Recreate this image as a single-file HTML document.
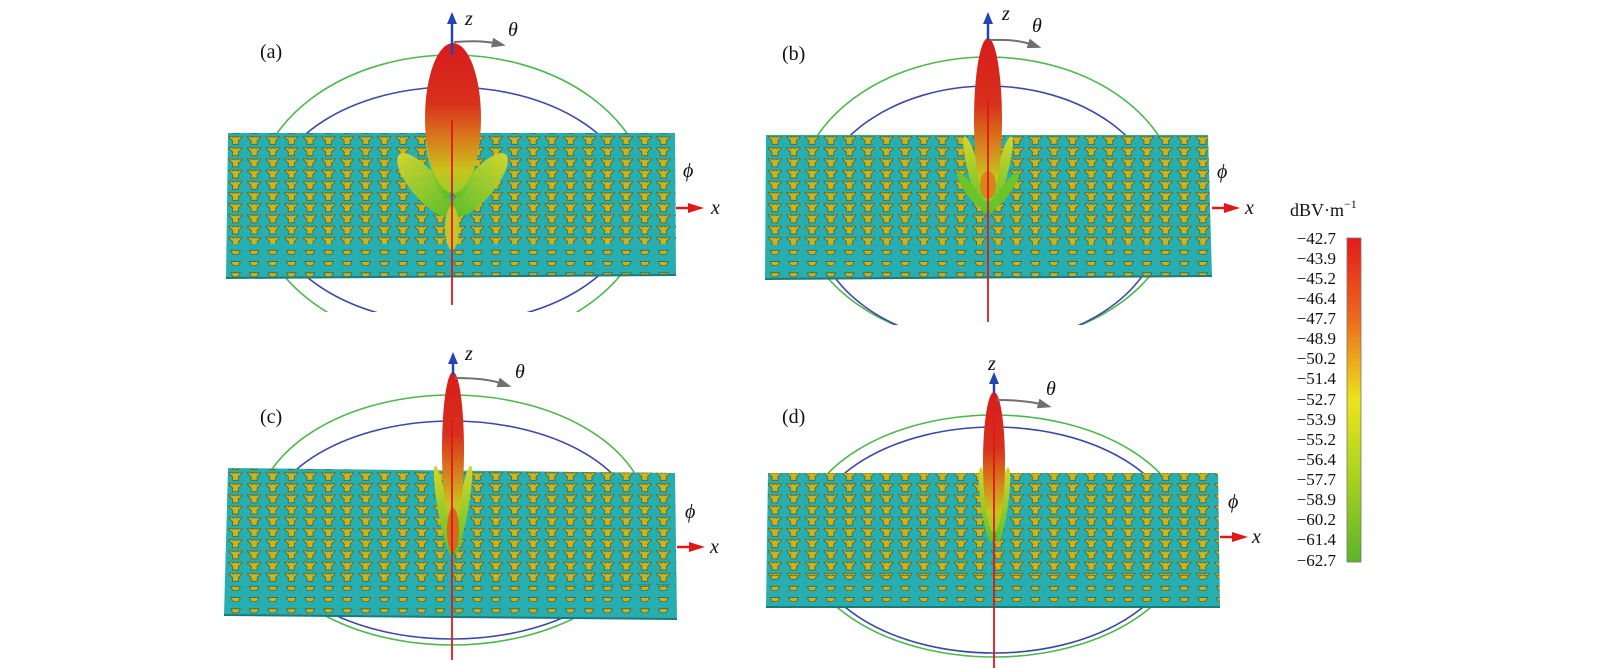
<!DOCTYPE html>
<html><head><meta charset="utf-8"><style>
html,body{margin:0;padding:0;background:#fff;}
svg{display:block;}
text{font-family:"Liberation Serif",serif;fill:#111;}
</style></head><body>
<svg width="1600" height="668" viewBox="0 0 1600 668" xmlns="http://www.w3.org/2000/svg">
<defs>
<pattern id="pt" width="18.6" height="11.2" patternUnits="userSpaceOnUse" x="3" y="1">
<path d="M2.5,1.5 Q5,0 7,2 Q9.3,0.5 11.6,2 Q13.6,0 16,1.5 L12.2,5.5 L12.5,9 L6.2,9 L6.5,5.5 Z" fill="#c9b520" stroke="#55551c" stroke-width="0.7"/>
</pattern>
<pattern id="ps" width="18.6" height="11.2" patternUnits="userSpaceOnUse" x="3" y="1">
<path d="M4.5,3 L14.2,3 L12,7 L6.6,7 Z" fill="#c9b520" stroke="#55551c" stroke-width="0.7"/>
</pattern>
<linearGradient id="lobe" x1="0" y1="0" x2="0" y2="1">
<stop offset="0" stop-color="#d81c1c"/><stop offset="0.4" stop-color="#d8301c"/>
<stop offset="0.65" stop-color="#d8801c"/><stop offset="0.85" stop-color="#c8c41c"/><stop offset="1" stop-color="#9acc2a"/>
</linearGradient>
<linearGradient id="side" x1="0" y1="0" x2="0" y2="1">
<stop offset="0" stop-color="#d6d62a"/><stop offset="1" stop-color="#5cc02a"/>
</linearGradient>
<linearGradient id="cb" x1="0" y1="0" x2="0" y2="1">
<stop offset="0" stop-color="#e41a1a"/><stop offset="0.25" stop-color="#ec6a1c"/>
<stop offset="0.5" stop-color="#ece41c"/><stop offset="0.75" stop-color="#a6d21e"/><stop offset="1" stop-color="#5cb42a"/>
</linearGradient>
<marker id="ab" markerUnits="userSpaceOnUse" markerWidth="12" markerHeight="12" refX="2" refY="6" orient="auto"><path d="M0,1 L12,6 L0,11 Z" fill="#2444b0"/></marker>
<marker id="ar" markerUnits="userSpaceOnUse" markerWidth="16" markerHeight="12" refX="2" refY="6" orient="auto"><path d="M0,1 L16,6 L0,11 Z" fill="#e01818"/></marker>
<marker id="ag" markerUnits="userSpaceOnUse" markerWidth="14" markerHeight="10" refX="2" refY="5" orient="auto"><path d="M0,0 L14,5 L0,10 Z" fill="#707070"/></marker>
<clipPath id="ca"><rect x="0" y="0" width="800" height="312"/></clipPath>
<clipPath id="cbp"><rect x="700" y="0" width="600" height="325"/></clipPath>
<clipPath id="cc"><rect x="0" y="330" width="800" height="328"/></clipPath>
</defs>

<!-- Panel a -->
<g clip-path="url(#ca)" fill="none" stroke-width="1.6">
<ellipse cx="452" cy="200" rx="197" ry="145" stroke="#4cb84c"/>
<ellipse cx="452" cy="205" rx="183" ry="118" stroke="#3c48a8"/>
</g>
<path d="M228,133 L675,133 L676,275 L226,278 Z" fill="#27aeb0"/>
<path d="M228,133 L675,133 L676,244 L227,244 Z" fill="url(#pt)"/>
<path d="M227,244 L676,244 L676,275 L226,278 Z" fill="url(#ps)"/>
<line x1="226" y1="278" x2="676" y2="275" stroke="#1a7a7c" stroke-width="2"/>
<ellipse cx="425" cy="185" rx="14" ry="40" transform="rotate(-40 425 185)" fill="url(#side)" opacity="0.95"/>
<ellipse cx="480" cy="185" rx="14" ry="40" transform="rotate(40 480 185)" fill="url(#side)" opacity="0.95"/>
<ellipse cx="438" cy="165" rx="8" ry="35" transform="rotate(-15 438 165)" fill="url(#side)"/>
<ellipse cx="467" cy="165" rx="8" ry="35" transform="rotate(15 467 165)" fill="url(#side)"/>
<ellipse cx="452" cy="228" rx="7" ry="22" fill="#c8c428"/>
<ellipse cx="453" cy="118" rx="28" ry="75" fill="url(#lobe)"/>
<line x1="452" y1="120" x2="452" y2="305" stroke="#e01818" stroke-width="1.8"/>
<line x1="452" y1="55" x2="452" y2="22" stroke="#2444b0" stroke-width="2.5" marker-end="url(#ab)"/>
<path d="M454,42 Q480,40 494,43" stroke="#707070" stroke-width="2" fill="none" marker-end="url(#ag)"/>
<line x1="676" y1="208" x2="690" y2="208" stroke="#e01818" stroke-width="2.5" marker-end="url(#ar)"/>
<text x="465" y="25" font-size="20" font-style="italic">z</text>
<text x="508" y="36" font-size="20" font-style="italic">θ</text>
<text x="683" y="177" font-size="20" font-style="italic">ϕ</text>
<text x="711" y="214" font-size="20" font-style="italic">x</text>
<text x="260" y="58" font-size="20">(a)</text>

<!-- Panel b -->
<g clip-path="url(#cbp)" fill="none" stroke-width="1.6">
<ellipse cx="988" cy="200" rx="191" ry="143" stroke="#4cb84c"/>
<ellipse cx="988" cy="215" rx="175" ry="129" stroke="#3c48a8"/>
</g>
<path d="M766,135 L1208,135 L1212,276 L765,279 Z" fill="#27aeb0"/>
<path d="M766,135 L1208,135 L1212,245 L765,245 Z" fill="url(#pt)"/>
<path d="M765,245 L1212,245 L1212,276 L765,279 Z" fill="url(#ps)"/>
<line x1="765" y1="279" x2="1212" y2="276" stroke="#1a7a7c" stroke-width="2"/>
<ellipse cx="975" cy="175" rx="6" ry="40" transform="rotate(-15 975 175)" fill="url(#side)"/>
<ellipse cx="1001" cy="175" rx="6" ry="40" transform="rotate(15 1001 175)" fill="url(#side)"/>
<ellipse cx="970" cy="190" rx="5" ry="22" transform="rotate(-35 970 190)" fill="#6cc42a"/>
<ellipse cx="1006" cy="190" rx="5" ry="22" transform="rotate(35 1006 190)" fill="#6cc42a"/>
<ellipse cx="988" cy="120" rx="14" ry="82" fill="url(#lobe)"/>
<ellipse cx="988" cy="185" rx="8" ry="14" fill="#d8861c"/>
<line x1="988" y1="100" x2="988" y2="322" stroke="#e01818" stroke-width="1.8"/>
<line x1="988" y1="40" x2="988" y2="22" stroke="#2444b0" stroke-width="2.5" marker-end="url(#ab)"/>
<path d="M990,40 Q1015,39 1030,44" stroke="#707070" stroke-width="2" fill="none" marker-end="url(#ag)"/>
<line x1="1212" y1="208" x2="1226" y2="208" stroke="#e01818" stroke-width="2.5" marker-end="url(#ar)"/>
<text x="1002" y="20" font-size="20" font-style="italic">z</text>
<text x="1032" y="32" font-size="20" font-style="italic">θ</text>
<text x="1217" y="178" font-size="20" font-style="italic">ϕ</text>
<text x="1245" y="214" font-size="20" font-style="italic">x</text>
<text x="782" y="60" font-size="20">(b)</text>

<!-- Panel c -->
<g clip-path="url(#cc)" fill="none" stroke-width="1.6">
<ellipse cx="452" cy="520" rx="197" ry="125" stroke="#4cb84c"/>
<ellipse cx="452" cy="530" rx="187" ry="109" stroke="#3c48a8"/>
</g>
<path d="M228,468 L675,473 L677,619 L224,615 Z" fill="#27aeb0"/>
<path d="M228,468 L675,473 L676,585 L226,582 Z" fill="url(#pt)"/>
<path d="M226,582 L676,585 L677,619 L224,615 Z" fill="url(#ps)"/>
<line x1="224" y1="615" x2="677" y2="619" stroke="#1a7a7c" stroke-width="2"/>
<ellipse cx="443" cy="510" rx="5" ry="45" transform="rotate(-10 443 510)" fill="url(#side)"/>
<ellipse cx="463" cy="510" rx="5" ry="45" transform="rotate(10 463 510)" fill="url(#side)"/>
<ellipse cx="453" cy="450" rx="11" ry="78" fill="url(#lobe)"/>
<ellipse cx="453" cy="530" rx="6" ry="22" fill="#d8681c"/>
<line x1="452" y1="420" x2="452" y2="660" stroke="#e01818" stroke-width="1.8"/>
<line x1="453" y1="375" x2="453" y2="362" stroke="#2444b0" stroke-width="2.5" marker-end="url(#ab)"/>
<path d="M455,378 Q485,378 500,383" stroke="#707070" stroke-width="2" fill="none" marker-end="url(#ag)"/>
<line x1="677" y1="547" x2="691" y2="547" stroke="#e01818" stroke-width="2.5" marker-end="url(#ar)"/>
<text x="465" y="360" font-size="20" font-style="italic">z</text>
<text x="515" y="378" font-size="20" font-style="italic">θ</text>
<text x="685" y="518" font-size="20" font-style="italic">ϕ</text>
<text x="710" y="553" font-size="20" font-style="italic">x</text>
<text x="260" y="423" font-size="20">(c)</text>

<!-- Panel d -->
<g fill="none" stroke-width="1.6">
<ellipse cx="994" cy="536" rx="194" ry="121" stroke="#4cb84c"/>
<ellipse cx="994" cy="540" rx="185" ry="113" stroke="#3c48a8"/>
</g>
<path d="M768,473 L1218,473 L1220,607 L766,607 Z" fill="#27aeb0"/>
<path d="M768,473 L1218,473 L1219,575 L767,575 Z" fill="url(#pt)"/>
<path d="M767,575 L1219,575 L1220,607 L766,607 Z" fill="url(#ps)"/>
<line x1="766" y1="607" x2="1220" y2="607" stroke="#1a7a7c" stroke-width="2"/>
<ellipse cx="986" cy="505" rx="5" ry="38" transform="rotate(-8 986 505)" fill="url(#side)"/>
<ellipse cx="1003" cy="505" rx="5" ry="38" transform="rotate(8 1003 505)" fill="url(#side)"/>
<ellipse cx="994" cy="462" rx="11" ry="70" fill="url(#lobe)"/>
<line x1="994" y1="420" x2="994" y2="668" stroke="#e01818" stroke-width="1.8"/>
<line x1="994" y1="393" x2="994" y2="382" stroke="#2444b0" stroke-width="2.5" marker-end="url(#ab)"/>
<path d="M996,400 Q1025,400 1040,404" stroke="#707070" stroke-width="2" fill="none" marker-end="url(#ag)"/>
<line x1="1220" y1="537" x2="1234" y2="537" stroke="#e01818" stroke-width="2.5" marker-end="url(#ar)"/>
<text x="988" y="370" font-size="20" font-style="italic">z</text>
<text x="1046" y="395" font-size="20" font-style="italic">θ</text>
<text x="1228" y="508" font-size="20" font-style="italic">ϕ</text>
<text x="1252" y="543" font-size="20" font-style="italic">x</text>
<text x="782" y="423" font-size="20">(d)</text>

<!-- colorbar -->
<text x="1290" y="216" font-size="18">dBV·m<tspan font-size="12" dy="-8">−1</tspan></text>
<rect x="1347" y="238" width="14" height="324" fill="url(#cb)" stroke="#777" stroke-width="0.8"/>
<g font-size="17" text-anchor="end">
<text x="1336" y="244">−42.7</text><text x="1336" y="264">−43.9</text><text x="1336" y="284">−45.2</text>
<text x="1336" y="304">−46.4</text><text x="1336" y="324">−47.7</text><text x="1336" y="344">−48.9</text>
<text x="1336" y="364">−50.2</text><text x="1336" y="384">−51.4</text><text x="1336" y="405">−52.7</text>
<text x="1336" y="425">−53.9</text><text x="1336" y="445">−55.2</text><text x="1336" y="465">−56.4</text>
<text x="1336" y="485">−57.7</text><text x="1336" y="505">−58.9</text><text x="1336" y="525">−60.2</text>
<text x="1336" y="545">−61.4</text><text x="1336" y="566">−62.7</text>
</g>
</svg>
</body></html>
